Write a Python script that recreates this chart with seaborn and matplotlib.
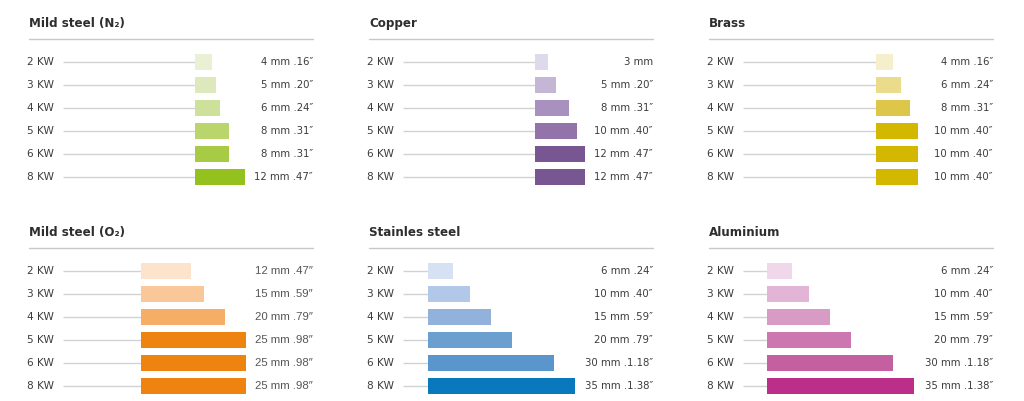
import seaborn as sns
import matplotlib.pyplot as plt

# power levels, shared by every panel
POWERS = ["2 KW", "3 KW", "4 KW", "5 KW", "6 KW", "8 KW"]

MILD_N2_MM = [4, 5, 6, 8, 8, 12]
MILD_N2_IN = [".16", ".20", ".24", ".31", ".31", ".47"]

COPPER_MM = [3, 5, 8, 10, 12, 12]
COPPER_IN = [None, ".20", ".31", ".40", ".47", ".47"]

BRASS_MM = [4, 6, 8, 10, 10, 10]
BRASS_IN = [".16", ".24", ".31", ".40", ".40", ".40"]

MILD_O2_MM = [12, 15, 20, 25, 25, 25]
MILD_O2_IN = [".47", ".59", ".79", ".98", ".98", ".98"]

STAINLESS_MM = [6, 10, 15, 20, 30, 35]
STAINLESS_IN = [".24", ".40", ".59", ".79", ".1.18", ".1.38"]

ALUMINIUM_MM = [6, 10, 15, 20, 30, 35]
ALUMINIUM_IN = [".24", ".40", ".59", ".79", ".1.18", ".1.38"]

GREENS = ["#e9f0d3", "#dde9bd", "#cde19a", "#bbd56d", "#a8cb45", "#95c11f"]
PURPLES = ["#dedaeb", "#c6b6d6", "#a891bf", "#9274aa", "#785692", "#785692"]
YELLOWS = ["#f5efcc", "#ebdc8b", "#ddc64a", "#d4b800", "#d4b800", "#d4b800"]
ORANGES = ["#fde3cb", "#fac898", "#f6ae66", "#ee8310", "#ee8310", "#ee8310"]
BLUES = ["#d6e2f3", "#b1c8e8", "#92b2db", "#6a9fd0", "#5a95cb", "#0a78bc"]
PINKS = ["#f0d8ea", "#e2b4d6", "#d79bc5", "#cd77b1", "#c4609f", "#bb2f89"]

# figure geometry in pixels
W, H = 1024, 401
PX_PER_MM = 4.2
ROW_STEP = 23
PANEL_W = 286

sns.set_theme(style="white")
plt.rcParams["font.family"] = ["DejaVu Sans"]

TEXT_COLOR = "#3c3c3c"
LINE_COLOR = "#d2d2d2"


def panel_label(mm, inch):
    if inch is None:
        return f"{mm} mm"
    return f"{mm} mm {inch}\u2033"


def draw_panel(fig, left_px, first_row_px, bar_start_px, title, mm, inch, colors,
               value_font=None):
    top = first_row_px - ROW_STEP / 2
    height = ROW_STEP * 6
    ax = fig.add_axes([left_px / W, 1 - (top + height) / H, PANEL_W / W, height / H])

    sns.barplot(x=mm, y=POWERS, hue=POWERS, palette=colors, legend=False,
                orient="h", width=0.7, saturation=1, linewidth=0, ax=ax)

    start_mm = (bar_start_px - left_px) / PX_PER_MM
    span_mm = PANEL_W / PX_PER_MM
    ax.set_xlim(-start_mm, span_mm - start_mm)
    ax.set_ylim(5.5, -0.5)
    ax.set_axis_off()

    # thin guide from the label to the start of the bar
    ax.hlines(range(len(POWERS)), -start_mm + 36 / PX_PER_MM, 0,
              color=LINE_COLOR, lw=1, zorder=0)

    tr = ax.get_yaxis_transform()
    for i, p in enumerate(POWERS):
        ax.text(0, i, p, transform=tr, ha="left", va="center",
                fontsize=7.6, color=TEXT_COLOR)
        kw = dict(fontsize=7.3, color=TEXT_COLOR)
        if value_font is not None:
            kw = dict(fontsize=8.2, color="#555555", family=value_font)
        ax.text(1, i, panel_label(mm[i], inch[i]), transform=tr,
                ha="right", va="center", **kw)

    # title and rule under it
    ax.text(2 / PANEL_W, -1.53, title, transform=tr, ha="left", va="baseline",
            fontsize=8.6, fontweight="bold", color="#2e2e2e")
    ax.plot([2 / PANEL_W, 1], [-1, -1], transform=tr, clip_on=False,
            color="#c8c8c8", lw=1)
    return ax


fig = plt.figure(figsize=(W / 100, H / 100), dpi=100)

draw_panel(fig, 27, 62, 195, "Mild steel (N\u2082)", MILD_N2_MM, MILD_N2_IN, GREENS)
draw_panel(fig, 367, 62, 535, "Copper", COPPER_MM, COPPER_IN, PURPLES)
draw_panel(fig, 707, 62, 876, "Brass", BRASS_MM, BRASS_IN, YELLOWS)
draw_panel(fig, 27, 271, 141, "Mild steel (O\u2082)", MILD_O2_MM, MILD_O2_IN, ORANGES,
           value_font="Liberation Sans")
draw_panel(fig, 367, 271, 428, "Stainles steel", STAINLESS_MM, STAINLESS_IN, BLUES)
draw_panel(fig, 707, 271, 767, "Aluminium", ALUMINIUM_MM, ALUMINIUM_IN, PINKS)

fig.savefig("out.png", dpi=100, facecolor="white")
